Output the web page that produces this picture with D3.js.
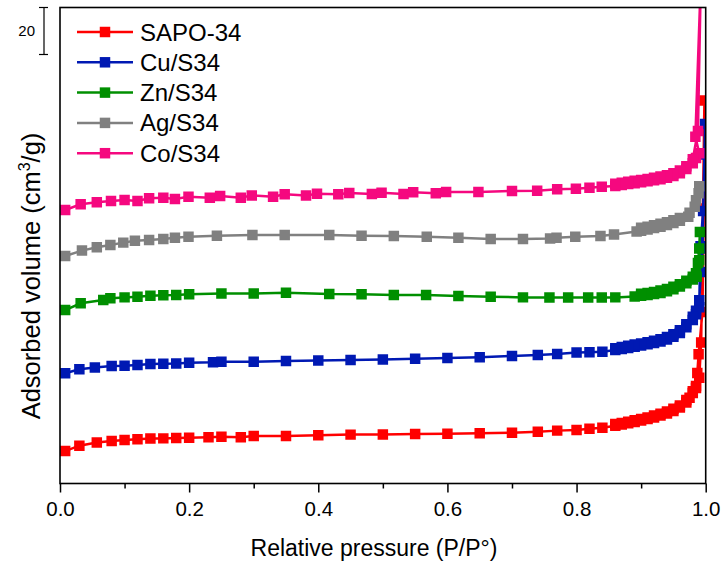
<!DOCTYPE html>
<html><head><meta charset="utf-8">
<script src="https://cdn.jsdelivr.net/npm/d3@7"></script>
<style>
html,body{margin:0;padding:0;background:#fff;}
svg{display:block;font-family:"Liberation Sans",Arial,sans-serif;}
</style></head>
<body><svg id="c" width="721" height="567"></svg>
<script>
// ---- data ----
const seriesNames = ["SAPO-34","Cu/S34","Zn/S34","Ag/S34","Co/S34"];
const seriesColors = ["#ff0000","#0019b3","#008f00","#808080","#f5087f"];

// adsorption branches
const sapoP = [0.008,0.03,0.057,0.08,0.10,0.12,0.14,0.16,0.18,0.20,0.23,0.25,0.28,0.30,0.35,0.40,0.45,0.50,0.55,0.60,0.65,0.70,0.74,0.77,0.80,0.82,0.84,0.86,0.87,0.88,0.89,0.90,0.91,0.92,0.93,0.94,0.95,0.96,0.97,0.975,0.98,0.985,0.987,0.989,0.995,0.997,0.998];
const sapoV = [13.8,16.1,17.4,18.1,18.5,18.8,19.1,19.2,19.4,19.5,19.7,19.9,19.7,20.2,20.2,20.5,20.8,20.9,21.1,21.2,21.4,21.6,22.0,22.5,22.8,23.3,23.7,24.6,25.1,25.6,26.2,26.8,27.4,28.1,28.9,29.8,30.9,32.3,34.5,36.5,38.5,40.6,47,55,73,117,163];
// desorption branches
const sapoDesP = [0.993,0.99,0.985,0.98,0.97,0.96,0.95,0.94,0.93,0.92,0.91,0.90,0.89,0.88,0.87,0.86];
const sapoDesV = [60,45,41.5,39.3,35.5,33.2,31.8,30.6,29.7,28.9,28.1,27.5,26.9,26.3,25.8,25.3];

const cuP = [0.008,0.03,0.054,0.08,0.10,0.12,0.14,0.16,0.18,0.20,0.237,0.25,0.30,0.35,0.40,0.45,0.50,0.55,0.60,0.65,0.70,0.74,0.77,0.80,0.82,0.84,0.86,0.87,0.88,0.89,0.90,0.91,0.92,0.93,0.94,0.95,0.96,0.97,0.98,0.985,0.99,0.991,0.992,0.996,0.998,0.999];
const cuV = [46.9,48.6,49.4,50.0,50.1,50.4,50.9,51.0,51.1,51.4,51.6,51.8,51.8,52.1,52.3,52.6,52.8,53.1,53.4,53.7,54.3,54.7,55.1,55.7,55.9,56.1,56.8,57.2,57.7,58.2,58.7,59.2,59.8,60.4,61.3,62.4,64.0,66.5,69.6,72.0,75.0,90,101,116,140,153];
const cuDesP = [0.995,0.99,0.985,0.98,0.97,0.96,0.95,0.94,0.93,0.92,0.91,0.90,0.89,0.88,0.87,0.86];
const cuDesV = [100,78,73.5,71,67.8,65.2,63.5,62.3,61.4,60.7,60.1,59.6,59.1,58.6,58.1,57.6];

const znP = [0.008,0.032,0.067,0.078,0.10,0.12,0.14,0.16,0.18,0.20,0.25,0.30,0.35,0.417,0.467,0.517,0.567,0.617,0.667,0.717,0.758,0.787,0.818,0.839,0.86,0.89,0.90,0.91,0.92,0.93,0.94,0.95,0.96,0.97,0.98,0.986,0.988,0.99,0.991];
const znV = [73.8,76.7,78.1,78.8,79.2,79.5,79.9,80.1,80.2,80.5,80.9,80.9,81.2,80.6,80.5,80.2,80.2,79.8,79.5,79.2,79.1,79.1,79.1,79.1,79.2,79.6,79.9,80.2,80.6,81.1,81.8,82.7,83.8,85.2,86.8,88.0,93.8,100,107];
const znDesP = [0.99,0.985,0.98,0.97,0.96,0.95,0.94,0.93,0.92,0.91,0.90];
const znDesV = [95,89.5,88,86.3,84.8,83.7,82.8,82.1,81.5,81.1,80.7];

const agP = [0.008,0.034,0.057,0.078,0.098,0.116,0.138,0.16,0.178,0.199,0.243,0.298,0.348,0.417,0.467,0.517,0.568,0.617,0.667,0.717,0.759,0.769,0.798,0.837,0.858,0.893,0.90,0.91,0.92,0.93,0.94,0.95,0.96,0.973,0.983,0.989,0.99];
const agV = [96.8,99.1,100.5,101.5,102.5,103.3,103.6,104.0,104.6,105.0,105.4,105.7,105.7,105.7,105.4,105.3,105.0,104.6,104.0,104.0,104.3,104.6,105.0,105.3,106.0,107.2,107.6,108.1,108.7,109.3,110.0,110.8,111.8,113.5,117.8,123.5,126.5];
const agDesP = [0.985,0.975,0.96,0.95,0.94,0.93,0.92,0.91,0.90];
const agDesV = [120.5,115.2,113,112,111.2,110.5,109.9,109.3,108.8];

const coP = [0.008,0.032,0.057,0.079,0.10,0.12,0.138,0.16,0.178,0.199,0.232,0.248,0.28,0.297,0.33,0.348,0.381,0.398,0.431,0.448,0.483,0.498,0.532,0.547,0.582,0.598,0.648,0.70,0.739,0.77,0.799,0.82,0.839,0.86,0.87,0.88,0.89,0.90,0.91,0.92,0.93,0.94,0.95,0.96,0.97,0.98,0.985,0.99,0.984,0.9925];
const coV = [116.4,118.8,119.7,120.2,120.6,120.2,121.4,121.6,121.1,122.0,121.6,122.3,121.6,122.6,122.0,123.1,122.6,123.3,123.1,123.6,123.2,123.7,123.2,123.9,123.5,124.0,124.0,124.5,124.6,125.2,125.4,125.9,126.3,126.6,127.0,127.4,127.8,128.2,128.6,129.0,129.5,130.1,130.8,132.0,133.8,136.3,138.5,140.5,147.6,215];
const coDesP = [0.988,0.98,0.97,0.96,0.95,0.94,0.93,0.92,0.91,0.90,0.89,0.88,0.87,0.86];
const coDesV = [150,138,135,133.2,132,131.2,130.6,130.1,129.6,129.2,128.8,128.4,128,127.6];

const xTicks = [0,0.2,0.4,0.6,0.8,1.0];
const xMinorTicks = [0.1,0.3,0.5,0.7,0.9];
const scaleBarValue = 20;

const seriesP = [sapoP.concat(sapoDesP),cuP.concat(cuDesP),znP.concat(znDesP),agP.concat(agDesP),coP.concat(coDesP)];
const seriesV = [sapoV.concat(sapoDesV),cuV.concat(cuDesV),znV.concat(znDesV),agV.concat(agDesV),coV.concat(coDesV)];

// ---- layout ----
const svg = d3.select("#c");
const L = 60, R = 705.7, T = 7.5, B = 483.5;
const x = d3.scaleLinear().domain([0,1]).range([L,R]);
const y = d3.scaleLinear().domain([0,(B-T)/2.35]).range([B,T]);

svg.append("defs").append("clipPath").attr("id","clip")
  .append("rect").attr("x",L).attr("y",T).attr("width",R-L).attr("height",B-T);

const plot = svg.append("g").attr("clip-path","url(#clip)");
const line = d3.line().x(d=>x(d[0])).y(d=>y(d[1]));
const sq = d3.symbol().type(d3.symbolSquare).size(110);

seriesNames.forEach((name,i)=>{
  const pts = seriesP[i].map((p,j)=>[p,seriesV[i][j]]);
  plot.append("path").datum(pts).attr("d",line)
    .attr("fill","none").attr("stroke",seriesColors[i]).attr("stroke-width",2.5);
  plot.append("g").selectAll("path").data(pts).join("path")
    .attr("d",sq).attr("transform",d=>`translate(${x(d[0])},${y(d[1])})`)
    .attr("fill",seriesColors[i]);
});

// frame
svg.append("rect").attr("x",L).attr("y",T).attr("width",R-L).attr("height",B-T)
  .attr("fill","none").attr("stroke","#000").attr("stroke-width",1.6);

// x axis
const xAxis = d3.axisBottom(x).tickValues(xTicks).tickFormat(d3.format(".1f")).tickSize(9).tickPadding(9);
const gx = svg.append("g").attr("transform",`translate(0,${B})`).call(xAxis);
gx.select(".domain").remove();
gx.selectAll(".tick line").attr("stroke","#000").attr("stroke-width",1.5);
gx.selectAll(".tick text").attr("font-size",20.5).attr("fill","#000").attr("font-family","Liberation Sans, Arial, sans-serif");
const xAxisMinor = d3.axisBottom(x).tickValues(xMinorTicks).tickFormat("").tickSize(5);
const gxm = svg.append("g").attr("transform",`translate(0,${B})`).call(xAxisMinor);
gxm.select(".domain").remove();
gxm.selectAll(".tick line").attr("stroke","#000").attr("stroke-width",1.5);

// axis titles
svg.append("text").attr("x",374).attr("y",556).attr("text-anchor","middle")
  .attr("font-size",23).attr("fill","#000").text("Relative pressure (P/P°)");
const yt = svg.append("text").attr("transform","translate(40,276) rotate(-90)")
  .attr("text-anchor","middle").attr("font-size",25.5).attr("fill","#000");
yt.append("tspan").text("Adsorbed volume (cm");
yt.append("tspan").attr("font-size",16).attr("dy",-10).text("3");
yt.append("tspan").attr("dy",10).text("/g)");

// scale bar
const sbTop = T, sbBot = T + (y(0)-y(scaleBarValue));
const sbx = 44;
svg.append("line").attr("x1",sbx).attr("x2",sbx).attr("y1",sbTop).attr("y2",sbBot).attr("stroke","#000").attr("stroke-width",1.2);
[sbTop,sbBot].forEach(v=>svg.append("line").attr("x1",sbx-5).attr("x2",sbx+4).attr("y1",v).attr("y2",v).attr("stroke","#000").attr("stroke-width",1.2));
svg.append("text").attr("x",35).attr("y",(sbTop+sbBot)/2+5).attr("text-anchor","end")
  .attr("font-size",15).attr("fill","#000").text(String(scaleBarValue));

// legend
const lg = svg.append("g");
seriesNames.forEach((name,i)=>{
  const cy = 32 + i*30.3;
  lg.append("line").attr("x1",77).attr("x2",133).attr("y1",cy).attr("y2",cy)
    .attr("stroke",seriesColors[i]).attr("stroke-width",2.5);
  lg.append("path").attr("d",sq).attr("transform",`translate(105,${cy})`).attr("fill",seriesColors[i]);
  lg.append("text").attr("x",140).attr("y",cy+8.5).attr("font-size",24).attr("fill","#000").text(name);
});
</script>
</body></html>
